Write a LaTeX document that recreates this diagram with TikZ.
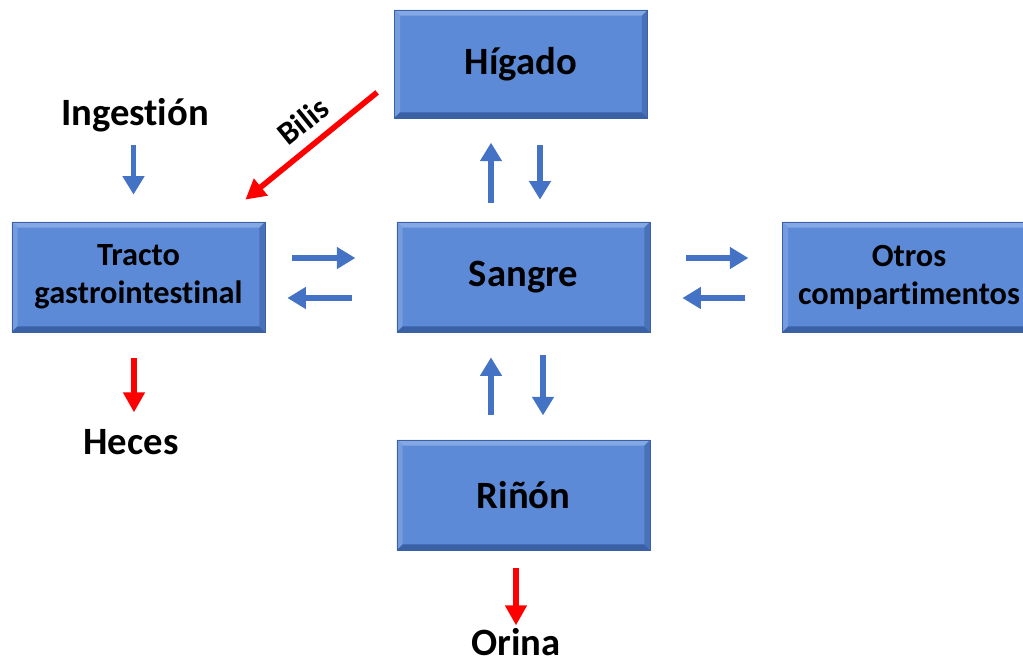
\documentclass[tikz,border=0pt]{standalone}
\usepackage{fontspec}
\setmainfont{Carlito}[Ligatures=NoCommon]
\usetikzlibrary{arrows.meta,positioning,calc}
\definecolor{boxblue}{RGB}{92,138,214}
\definecolor{boxlight}{RGB}{132,168,228}
\definecolor{boxdark}{RGB}{58,96,166}
\definecolor{arrblue}{RGB}{68,114,196}
\definecolor{arrred}{RGB}{255,0,0}
\newcommand{\bigfont}{\bfseries\fontsize{27.5}{32}\selectfont}
\newcommand{\smallfont}{\bfseries\fontsize{23}{27}\selectfont}
\tikzset{
  organ/.style={fill=boxblue, draw=boxdark, line width=0.5pt,
                minimum width=6.325cm, minimum height=2.75cm, align=center, font=\bigfont,
                path picture={
                  \coordinate (pnw) at (path picture bounding box.north west);
                  \coordinate (pse) at (path picture bounding box.south east);
                  \fill[boxlight] (pnw) -- (pnw -| pse) -- ($(pnw -| pse)+(-4pt,-4pt)$) -- ($(pnw)+(4pt,-4pt)$) -- cycle;
                  \fill[boxlight!60!boxblue] (pnw) -- ($(pnw)+(4pt,-4pt)$) -- ($(pnw |- pse)+(4pt,4pt)$) -- (pnw |- pse) -- cycle;
                  \fill[boxdark] (pse) -- (pnw |- pse) -- ($(pnw |- pse)+(4pt,4pt)$) -- ($(pse)+(-4pt,4pt)$) -- cycle;
                  \fill[boxdark!60!boxblue] (pse) -- ($(pse)+(-4pt,4pt)$) -- ($(pnw -| pse)+(-4pt,-4pt)$) -- (pnw -| pse) -- cycle;
                }},
  rotulo/.style={font=\bigfont, inner sep=0pt},
  flujo/.style={-{Triangle[length=4.6mm, width=5.2mm]}, arrblue, line width=4.2pt},
  salida/.style={-{Triangle[length=5mm, width=5.2mm]}, arrred, line width=4.6pt},
}

\begin{document}
\begin{tikzpicture}[x=0.025cm, y=-0.025cm]
  \useasboundingbox (0,0) rectangle (1023,660);
  % compartimentos
  \node[organ, minimum height=2.7cm] (higado) at (521,64) {Hígado};
  \node[organ, font=\smallfont] (tracto) at (138.5,277) {Tracto\\gastrointestinal};
  \node[organ] (sangre) at (523.5,277) {Sangre};
  \node[organ, font=\smallfont] (otros) at (909,277) {Otros\\compartimentos};
  \node[organ] (rinon) at (523.5,495) {Riñón};
  % entradas y salidas
  \node[rotulo] (ingestion) at (135,115) {Ingestión};
  \node[rotulo] (heces) at (131,442) {Heces};
  \node[rotulo] (orina) at (516,642) {Orina};
  \node[rotulo, font=\smallfont, rotate=39] (bilis) at (303,121) {Bilis};

  \draw[flujo] ($(tracto.north)+(-5,-77)$) -- ($(tracto.north)+(-5,-27)$);
  \draw[salida] ($(tracto.south)+(-4.5,26)$) -- ($(tracto.south)+(-4.5,80)$);
  \draw[salida] ($(rinon.south)+(-7.5,18)$) -- ($(rinon.south)+(-7.5,75)$);
  \draw[salida, line width=4pt] ($(higado.south west)+(-17,-26)$) -- ($(tracto.north east)+(-20,-22)$);

  % intercambios con la sangre
  \draw[flujo] ($(tracto.east)+(27,-19)$) -- ($(tracto.east)+(90,-19)$);
  \draw[flujo] ($(tracto.east)+(87,21)$) -- ($(tracto.east)+(22,21)$);
  \draw[flujo] ($(sangre.east)+(36,-19)$) -- ($(sangre.east)+(98,-19)$);
  \draw[flujo] ($(sangre.east)+(95,21)$) -- ($(sangre.east)+(32,21)$);
  \draw[flujo] ($(sangre.north)+(-32.5,-19)$) -- ($(sangre.north)+(-32.5,-79)$);
  \draw[flujo] ($(sangre.north)+(16.5,-77)$) -- ($(sangre.north)+(16.5,-22)$);
  \draw[flujo] ($(sangre.south)+(-32.5,83)$) -- ($(sangre.south)+(-32.5,25)$);
  \draw[flujo] ($(sangre.south)+(19.5,23)$) -- ($(sangre.south)+(19.5,83)$);
\end{tikzpicture}
\end{document}
